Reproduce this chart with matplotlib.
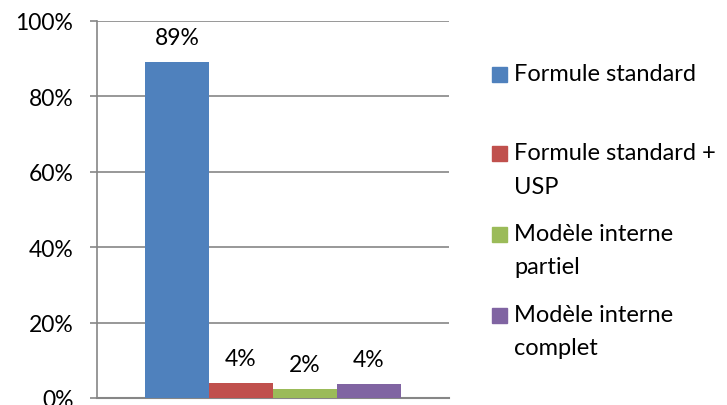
import matplotlib
matplotlib.use("Agg")
import matplotlib.pyplot as plt
from matplotlib.patches import Rectangle
from matplotlib.ticker import PercentFormatter

plt.rcParams['font.family'] = ['Lato', 'DejaVu Sans']

categories = ["Formule standard", "Formule standard +\nUSP", "Modèle interne\npartiel", "Modèle interne\ncomplet"]
values = [0.89, 0.04, 0.024, 0.038]
value_labels = ["89%", "4%", "2%", "4%"]
colors = ["#4F81BD", "#C0504D", "#9BBB59", "#8064A2"]
yticks = [0, 0.2, 0.4, 0.6, 0.8, 1.0]

W, H = 727, 406
fig = plt.figure(figsize=(W / 100, H / 100), dpi=100)
ax = fig.add_axes([97 / W, 1 - 399 / H, (449 - 97) / W, (399 - 22) / H])

positions = [-1.5, -0.5, 0.5, 1.5]
bars = ax.bar(positions, values, width=1.0, color=colors, zorder=3)
for x, v, lab in zip(positions, values, value_labels):
    ax.annotate(lab, (x, v), xytext=(0, 13), textcoords="offset points",
                ha="center", va="baseline", fontsize=16.5, color="#000000")

ax.set_xlim(-2.75, 2.75)
ax.set_ylim(0, 1.0)
ax.set_yticks(yticks)
ax.yaxis.set_major_formatter(PercentFormatter(1.0, decimals=0))
ax.set_xticks([])
grid_c = "#868686"
ax.yaxis.grid(True, color=grid_c, linewidth=1.2, zorder=0)
for s in ["top", "right"]:
    ax.spines[s].set_visible(False)
ax.spines["left"].set_color(grid_c)
ax.spines["left"].set_linewidth(1.2)
ax.spines["bottom"].set_color(grid_c)
ax.spines["bottom"].set_linewidth(1.5)
ax.tick_params(axis="y", length=5, width=1.2, color=grid_c, pad=12, labelsize=16.5)
ax.tick_params(axis="x", length=0)

# legend drawn manually
centers = [75, 154, 235, 316]
line_gap = 33
for cy, lab, c in zip(centers, categories, colors):
    fig.patches.append(Rectangle((492 / W, 1 - (cy + 7.5) / H), 15 / W, 15 / H,
                                 transform=fig.transFigure, color=c, figure=fig))
    for i, line in enumerate(lab.split("\n")):
        fig.text(514 / W, 1 - (cy + i * line_gap) / H, line, fontsize=17,
                 va="center", ha="left", color="#000000")

fig.savefig("out.png", dpi=100)
